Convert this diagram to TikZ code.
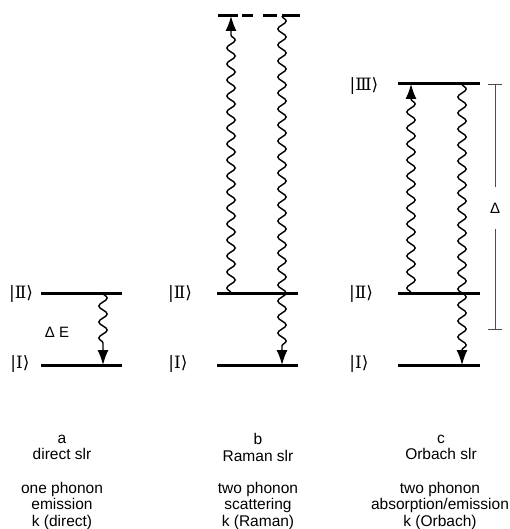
\documentclass[tikz,border=0pt]{standalone}
\usepackage{fontspec}
\setmainfont{Liberation Sans}
\newfontfamily\ketfont{DejaVu Serif}
\usetikzlibrary{arrows.meta,decorations.pathmorphing}
\begin{document}
\begin{tikzpicture}[x=1pt,y=-1pt,
  level/.style={line width=3pt},
  phonon/.style={line width=1.4pt, decorate,
    decoration={snake, amplitude=4.2pt, segment length=16pt, post length=15pt},
    -{Latex[length=15pt,width=11pt]}},
  ket/.style={font=\ketfont\fontsize{17}{19}\selectfont, inner sep=0pt},
  caption/.style={align=center, font=\fontsize{15.5}{16.5}\selectfont, inner sep=0pt}]
\useasboundingbox (0,0) rectangle (509,529);

% ---- a: direct process ----
\coordinate (a2l) at (41,293); \coordinate (a2r) at (122,293);
\coordinate (a1l) at (41,365); \coordinate (a1r) at (122,365);
\draw[level] (a2l) -- (a2r);
\draw[level] (a1l) -- (a1r);
\node[ket] (ka2) at (21,294) {|Ⅱ⟩};
\node[ket] (ka1) at (20,364) {|Ⅰ⟩};
\node[font=\fontsize{15}{17}\selectfont, inner sep=0pt] (dE) at (57,332) {Δ E};
\coordinate (aw1) at (103,293); \coordinate (aw2) at (103,365);
\draw[phonon] (aw1) -- (aw2);

% ---- b: Raman process ----
\coordinate (b3l) at (218,16); \coordinate (b3r) at (300,16);
\coordinate (b2l) at (217,293); \coordinate (b2r) at (298,293);
\coordinate (b1l) at (217,365); \coordinate (b1r) at (298,365);
\draw[level, dash pattern=on 20pt off 4pt on 11pt off 10pt on 14pt off 5pt on 18pt] (b3l) -- (b3r);
\draw[level] (b2l) -- (b2r);
\draw[level] (b1l) -- (b1r);
\node[ket] (kb2) at (180,294) {|Ⅱ⟩};
\node[ket] (kb1) at (178,364) {|Ⅰ⟩};
\coordinate (bu1) at (231,293); \coordinate (bu2) at (231,16);
\coordinate (bd1) at (282,16); \coordinate (bd2) at (282,365);
\draw[phonon] (bu1) -- (bu2);
\draw[phonon] (bd1) -- (bd2);

% ---- c: Orbach process ----
\coordinate (c3l) at (398,84); \coordinate (c3r) at (480,84);
\coordinate (c2l) at (398,293); \coordinate (c2r) at (480,293);
\coordinate (c1l) at (398,365); \coordinate (c1r) at (480,365);
\draw[level] (c3l) -- (c3r);
\draw[level] (c2l) -- (c2r);
\draw[level] (c1l) -- (c1r);
\node[ket] (kc3) at (364,86) {|Ⅲ⟩};
\node[ket] (kc2) at (361,294) {|Ⅱ⟩};
\node[ket] (kc1) at (359,364) {|Ⅰ⟩};
\coordinate (cu1) at (411,293); \coordinate (cu2) at (411,84);
\coordinate (cd1) at (462,84); \coordinate (cd2) at (462,365);
\draw[phonon] (cu1) -- (cu2);
\draw[phonon] (cd1) -- (cd2);

% energy gap bracket
\coordinate (gt) at (495,84); \coordinate (gb) at (495,329);
\draw[line width=0.8pt, black!70] (488,84) -- (502,84);
\draw[line width=0.8pt, black!70] (488,329) -- (502,329);
\draw[line width=0.8pt, black!70] (gt) -- (gb);
\node[fill=white, inner xsep=2pt, minimum height=42pt, font=\fontsize{15}{17}\selectfont] (gap) at (495,208) {Δ};

% ---- captions ----
\node[caption] (capa) at (62,447.5) {a\\direct slr};
\node[caption] (capb) at (258,447.5) {b\\Raman slr};
\node[caption] (capc) at (441,447.5) {c\\Orbach slr};
\node[caption] (desa) at (62,505.5) {one phonon\\emission\\k (direct)};
\node[caption] (desb) at (258,505.5) {two phonon\\scattering\\k (Raman)};
\node[caption] (desc) at (440,505.5) {two phonon\\absorption/emission\\k (Orbach)};
\end{tikzpicture}
\end{document}
